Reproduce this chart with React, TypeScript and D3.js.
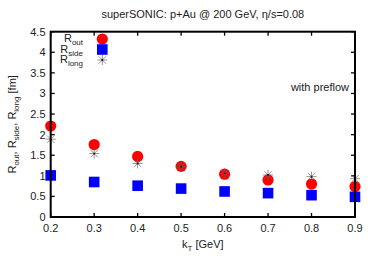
import React from "react";
import * as d3 from "d3";

const kT = [0.2, 0.3, 0.4, 0.5, 0.6, 0.7, 0.8, 0.9];
const rOut = [2.21, 1.76, 1.47, 1.23, 1.04, 0.9, 0.8, 0.74];
const rSide = [1.01, 0.85, 0.76, 0.69, 0.62, 0.58, 0.53, 0.49];
const rLong = [1.89, 1.54, 1.3, 1.22, 1.06, 1.02, 0.98, 0.93];
const xTicks = [0.2, 0.3, 0.4, 0.5, 0.6, 0.7, 0.8, 0.9];
const yTicks = [0, 0.5, 1, 1.5, 2, 2.5, 3, 3.5, 4, 4.5];

const W = 374;
const H = 262;
const L = 50.7;
const R = 355;
const T = 31.7;
const B = 217;
const FONT = "'Liberation Sans', Arial, sans-serif";
const TXT = "#222";

export default function App() {
  const x = d3.scaleLinear().domain([0.2, 0.9]).range([L, R]);
  const y = d3.scaleLinear().domain([0, 4.5]).range([B, T]);
  const tick = 4;

  const star = (cx: number, cy: number, key: string) => {
    const s = 5;
    const d = s * 0.75;
    return (
      <g key={key}>
        <g stroke="#666" strokeWidth={0.7}>
          <line x1={cx - s} y1={cy} x2={cx + s} y2={cy} />
          <line x1={cx} y1={cy - s} x2={cx} y2={cy + s} />
          <line x1={cx - d} y1={cy - d} x2={cx + d} y2={cy + d} />
          <line x1={cx - d} y1={cy + d} x2={cx + d} y2={cy - d} />
        </g>
        <circle cx={cx} cy={cy} r={0.9} fill="#111" />
      </g>
    );
  };

  const legendX = 83;
  const symX = 102.3;
  const legendRows = [
    { main: "R", sub: "out", y: 39 },
    { main: "R", sub: "side", y: 49.5 },
    { main: "R", sub: "long", y: 60 },
  ];

  return (
    <svg
      width={W}
      height={H}
      style={{ position: "absolute", left: 0, top: 0, background: "#fff" }}
      fontFamily={FONT}
    >
      <rect x={0} y={0} width={W} height={H} fill="#fff" />
      <text x={(L + R) / 2} y={18} textAnchor="middle" fontSize={11} fill={TXT}>
        superSONIC: p+Au @ 200 GeV, η/s=0.08
      </text>

      {/* ticks */}
      {xTicks.map((t) => (
        <g key={"xt" + t} stroke="#000" strokeWidth={1.3}>
          <line x1={x(t)} y1={B} x2={x(t)} y2={B - tick} />
          <line x1={x(t)} y1={T} x2={x(t)} y2={T + tick} />
        </g>
      ))}
      {yTicks.map((t) => (
        <g key={"yt" + t} stroke="#000" strokeWidth={1.3}>
          <line x1={L} y1={y(t)} x2={L + tick} y2={y(t)} />
          <line x1={R} y1={y(t)} x2={R - tick} y2={y(t)} />
        </g>
      ))}
      {xTicks.map((t) => (
        <text key={"xl" + t} x={x(t)} y={232} textAnchor="middle" fontSize={11} fill={TXT}>
          {d3.format(".1f")(t)}
        </text>
      ))}
      {yTicks.map((t) => (
        <text
          key={"yl" + t}
          x={45.5}
          y={y(t) + 4}
          textAnchor="end"
          fontSize={11}
          fill={TXT}
        >
          {d3.format("")(t)}
        </text>
      ))}

      {/* data */}
      {kT.map((k, i) => (
        <circle key={"o" + i} cx={x(k)} cy={y(rOut[i])} r={5.6} fill="#ff0000" />
      ))}
      {kT.map((k, i) => (
        <rect
          key={"s" + i}
          x={x(k) - 5.3}
          y={y(rSide[i]) - 5.3}
          width={10.6}
          height={10.6}
          fill="#0000ff"
        />
      ))}
      {kT.map((k, i) => star(x(k), y(rLong[i]), "l" + i))}

      {/* frame */}
      <rect x={L} y={T} width={R - L} height={B - T} fill="none" stroke="#000" strokeWidth={2} />

      {/* legend */}
      {legendRows.map((r) => (
        <text key={r.sub} x={legendX} y={r.y + 3} textAnchor="end" fontSize={11} fill={TXT}>
          {r.main}
          <tspan fontSize={8} dy={3}>
            {r.sub}
          </tspan>
        </text>
      ))}
      <circle cx={symX} cy={39} r={5.6} fill="#ff0000" />
      <rect x={symX - 5.3} y={49.5 - 5.3} width={10.6} height={10.6} fill="#0000ff" />
      {star(symX, 60, "legstar")}

      <text x={349} y={91} textAnchor="end" fontSize={11} fill={TXT}>
        with preflow
      </text>

      {/* axis labels */}
      <text x={(L + R) / 2} y={248} textAnchor="middle" fontSize={11} fill={TXT}>
        k
        <tspan fontSize={8} dy={3}>T</tspan>
        <tspan dy={-3}> [GeV]</tspan>
      </text>
      <text
        transform={`translate(16, ${(T + B) / 2}) rotate(-90)`}
        textAnchor="middle"
        fontSize={11}
        fill={TXT}
      >
        R<tspan fontSize={8} dy={3}>out</tspan>
        <tspan dy={-3}>, R</tspan>
        <tspan fontSize={8} dy={3}>side</tspan>
        <tspan dy={-3}>, R</tspan>
        <tspan fontSize={8} dy={3}>long</tspan>
        <tspan dy={-3}> [fm]</tspan>
      </text>
    </svg>
  );
}
